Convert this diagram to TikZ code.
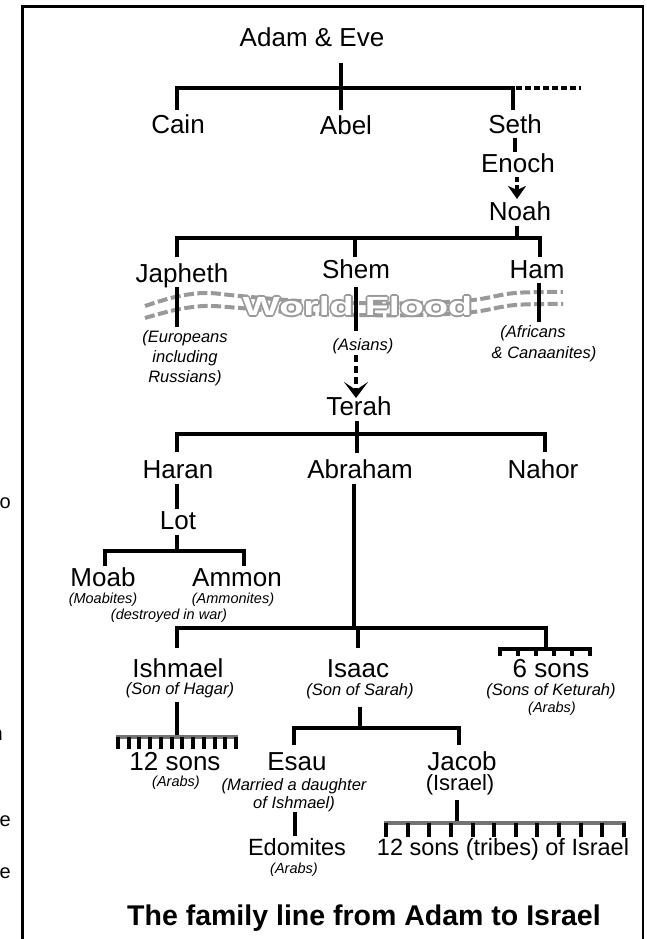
\documentclass[tikz,border=0pt]{standalone}
\usepackage{fontspec}
\setmainfont{Liberation Sans}
\usetikzlibrary{arrows.meta}
\definecolor{floodgray}{gray}{0.6}
\definecolor{combgray}{gray}{0.45}
\begin{document}
\begin{tikzpicture}[x=1pt,y=-1pt,
  nm/.style={font=\fontsize{26}{28}\selectfont, inner sep=0pt, anchor=base},
  nmsmall/.style={font=\fontsize{23.5}{26}\selectfont, inner sep=0pt, anchor=base},
  note/.style={font=\fontsize{16.5}{18}\selectfont\itshape, inner sep=0pt, anchor=base},
  notesmall/.style={font=\fontsize{14.5}{16}\selectfont\itshape, inner sep=0pt, anchor=base},
  frag/.style={font=\fontsize{20}{22}\selectfont, inner sep=0pt, anchor=base east},
  ln/.style={line width=4.6pt},
  tooth/.style={line width=4pt},
  combbar/.style={line width=3.5pt, draw=combgray},
  flood/.style={line width=4pt, draw=floodgray, dash pattern=on 10pt off 3.5pt},
  floodtxt/.style={font=\fontsize{25}{27}\selectfont\bfseries, inner sep=0pt, anchor=base}
]
\useasboundingbox (0,0) rectangle (646,939);

% frame (open at the bottom)
\draw[line width=2.6pt] (22.5,939) -- (22.5,6.5) -- (643,6.5) -- (643,939);

% fragments of cut-off text on the left
\node[frag] (fo) at (11,508) {o};
\node[frag] (fn) at (3,740) {n};
\node[frag] (fe1) at (11,826) {e};
\node[frag] (fe2) at (11,878) {e};

% ---------- names ----------
\node[nm] (adam) at (312,47) {Adam \& Eve};
\node[nm] (cain) at (178,133) {Cain};
\node[nm] (abel) at (346,135) {Abel};
\node[nm] (seth) at (515,133) {Seth};
\node[nm] (enoch) at (518,172) {Enoch};
\node[nm] (noah) at (520,220) {Noah};
\node[nm] (japheth) at (182,282) {Japheth};
\node[nm] (shem) at (356,278) {Shem};
\node[nm] (ham) at (537,278) {Ham};

% ---------- flood band ----------
\draw[flood] plot[smooth, tension=0.6] coordinates {(145,306) (175,297) (205,293) (240,296) (300,301) (357,303) (420,303) (473,300) (515,293) (563,292)};
\draw[flood] plot[smooth, tension=0.6] coordinates {(145,318) (175,310) (205,306) (240,308) (300,313) (357,315) (420,315) (473,312) (515,305) (563,304)};
\foreach \dx/\dy in {1.8/0,-1.8/0,0/1.8,0/-1.8,1.3/1.3,1.3/-1.3,-1.3/1.3,-1.3/-1.3}{
  \node[floodtxt, text=floodgray] at (357.5+\dx,315.5+\dy) {\scalebox{1.58}[1.05]{World Flood}};
}
\node[floodtxt, text=white] (flood) at (357.5,315.5) {\scalebox{1.58}[1.05]{World Flood}};

\node[note] (eur1) at (185,342) {(Europeans};
\node[note] (eur2) at (185,362) {including};
\node[note] (eur3) at (185,382) {Russians)};
\node[note] (asians) at (363,350) {(Asians)};
\node[note] (afr1) at (533,337) {(Africans};
\node[note] (afr2) at (544,358) {\& Canaanites)};

\node[nm] (terah) at (359,415) {Terah};
\node[nm] (haran) at (178,478) {Haran};
\node[nm] (abraham) at (360,478) {Abraham};
\node[nm] (nahor) at (543,478) {Nahor};
\node[nm] (lot) at (178,529) {Lot};
\node[nm] (moab) at (103,586) {Moab};
\node[nm] (ammon) at (237,586) {Ammon};
\node[notesmall] (moabites) at (103,603) {(Moabites)};
\node[notesmall] (ammonites) at (233,603) {(Ammonites)};
\node[notesmall] (destroyed) at (169,619) {(destroyed in war)};

\node[nm] (ishmael) at (178,677) {Ishmael};
\node[note] (hagar) at (180,694) {(Son of Hagar)};
\node[nm] (isaac) at (358,677) {Isaac};
\node[note] (sarah) at (360,695) {(Son of Sarah)};
\node[nm] (sixsons) at (551,677) {6 sons};
\node[note] (keturah) at (551,695) {(Sons of Keturah)};
\node[notesmall] (arabs1) at (552,712) {(Arabs)};

\node[nm] (twelvesons) at (175,770) {12 sons};
\node[notesmall] (arabs2) at (176,786) {(Arabs)};
\node[nm] (esau) at (297,770) {Esau};
\node[note] (married1) at (294,790) {(Married a daughter};
\node[note] (married2) at (294,808) {of Ishmael)};
\node[nm] (jacob) at (462,770) {Jacob};
\node[font=\fontsize{22}{24}\selectfont, inner sep=0pt, anchor=base] (israel) at (460,790) {(Israel)};
\node[nmsmall] (edomites) at (297,855) {Edomites};
\node[notesmall] (arabs3) at (294,873) {(Arabs)};
\node[nmsmall] (tribes) at (503,855) {12 sons (tribes) of Israel};

\node[font=\fontsize{28.5}{30}\selectfont\bfseries, inner sep=0pt, anchor=base] (title) at (364,925) {The family line from Adam to Israel};

% ---------- connectors ----------
% Adam & Eve
\draw[ln] (341,63) -- (341,110);
\draw[ln] (177,110) -- (177,88) -- (513,88) -- (513,110);
\draw[ln, dash pattern=on 5.5pt off 3.5pt] (516,88) -- (581,88);
% Seth - Enoch - Noah
\draw[ln] (515,138) -- (515,152);
\draw[ln, dash pattern=on 5pt off 3pt, -{Stealth[length=13pt,width=18pt,inset=4pt]}] (517,177) -- (517,199);
% Noah
\draw[ln] (517,226) -- (517,238);
\draw[ln] (177,257) -- (177,238) -- (540,238) -- (540,257);
\draw[ln] (355,238) -- (355,257);
% through the flood
\draw[ln] (177,287) -- (177,327);
\draw[ln] (356,287) -- (356,331);
\draw[ln] (539,283) -- (539,322);
\draw[ln, dash pattern=on 7pt off 4pt, -{Stealth[length=16pt,width=24pt,inset=8pt]}] (356,355) -- (356,398);
% Terah
\draw[ln] (357,421) -- (357,453);
\draw[ln] (177,452) -- (177,434) -- (545,434) -- (545,452);
% Haran - Lot
\draw[ln] (177,484) -- (177,509);
\draw[ln] (177,535) -- (177,551);
\draw[ln] (105,566) -- (105,551) -- (244,551) -- (244,566);
% Abraham
\draw[ln] (354,484) -- (354,628);
\draw[ln] (177,648) -- (177,628) -- (546,628) -- (546,647);
\draw[ln] (358,628) -- (358,648);
% 6 sons comb
\draw[ln] (498,649) -- (592,649);
\foreach \x in {500,518,536,554,572,590} \draw[tooth] (\x,649) -- (\x,656);
% Ishmael - 12 sons
\draw[ln] (177,702) -- (177,737);
\draw[combbar] (116,737) -- (238,737);
\foreach \i in {0,...,11} \draw[tooth] ({118+\i*10.73},737) -- ({118+\i*10.73},749);
% Isaac
\draw[ln] (360,707) -- (360,728);
\draw[ln] (294,745) -- (294,728) -- (459,728) -- (459,745);
% Esau - Edomites
\draw[ln] (295,812) -- (295,836);
% Jacob - 12 tribes
\draw[ln] (457,800) -- (457,823);
\draw[combbar, line width=4pt] (384,823) -- (626,823);
\foreach \i in {0,...,11} \draw[tooth] ({386+\i*21.64},823) -- ({386+\i*21.64},837);
\end{tikzpicture}
\end{document}
